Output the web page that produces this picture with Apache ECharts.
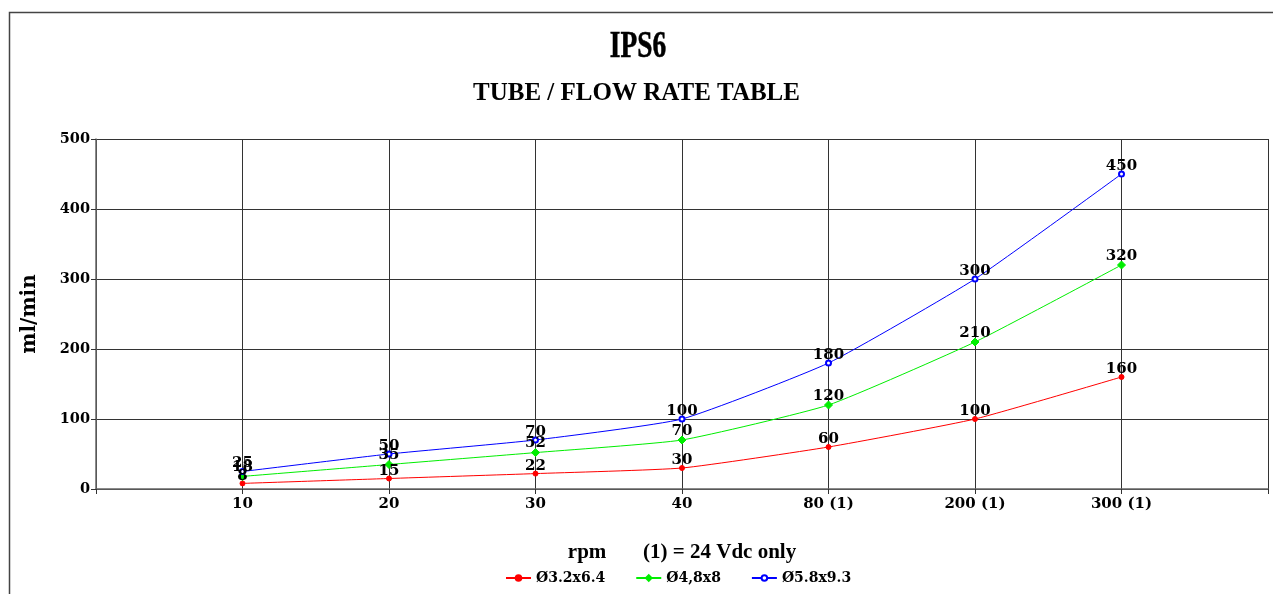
<!DOCTYPE html>
<html><head><meta charset="utf-8">
<script src="https://cdn.jsdelivr.net/npm/echarts@6/dist/echarts.min.js"></script>
<style>html,body{margin:0;padding:0;background:#fff}#c{width:1273px;height:594px}</style>
</head><body><div id="c"></div>
<script>
const categories = ['', '10', '20', '30', '40', '80 (1)', '200 (1)', '300 (1)', ''];
const tube1 = [null, 8, 15, 22, 30, 60, 100, 160, null];
const tube2 = [null, 18, 35, 52, 70, 120, 210, 320, null];
const tube3 = [null, 25, 50, 70, 100, 180, 300, 450, null];
const seriesNames = ['Ø3.2x6.4', 'Ø4,8x8', 'Ø5.8x9.3'];
const yTicks = [0, 100, 200, 300, 400, 500];

const chart = echarts.init(document.getElementById('c'));
const numFont = 'DejaVu Serif';
const labelStyle = {show: true, position: 'top', distance: 0, offset: [0, 3], color: '#000', fontFamily: numFont, fontWeight: 'bold', fontSize: 15};
function mk(name, data, color, symbol, size) {
  return {
    name: name, type: 'line', data: data, connectNulls: false, smooth: 0.15,
    symbol: symbol, symbolSize: size, showAllSymbol: true,
    lineStyle: {color: color, width: 1},
    itemStyle: {color: color, borderColor: color, borderWidth: 1},
    label: labelStyle, z: 3
  };
}
chart.setOption({
  animation: false,
  backgroundColor: '#fff',
  graphic: [
    {type: 'rect', shape: {x: 9.5, y: 12.5, width: 1400, height: 700}, style: {fill: 'none', stroke: '#444', lineWidth: 1.5}, z: -10},
    {type: 'text', x: 638, y: 47, scaleX: 0.72, style: {text: 'IPS6', x: 0, y: 0, align: 'center', verticalAlign: 'middle', fill: '#000', font: 'bold 38px "Liberation Serif"', stroke: '#000', lineWidth: 0.6}}
  ],
  title: [
    {text: 'TUBE / FLOW RATE TABLE', left: 'center', top: 76, textStyle: {fontFamily: 'Liberation Serif', fontWeight: 'bold', fontSize: 25, color: '#000'}}
  ],
  legend: {
    bottom: 4, left: 500, itemGap: 30, itemWidth: 25, itemHeight: 7,
    textStyle: {fontFamily: numFont, fontWeight: 'bold', fontSize: 14, color: '#000'},
    data: seriesNames
  },
  grid: {left: 96, right: 5, top: 139, bottom: 105},
  xAxis: {
    type: 'category', data: categories, boundaryGap: false,
    name: 'rpm       (1) = 24 Vdc only', nameLocation: 'middle', nameGap: 53,
    nameTextStyle: {fontFamily: 'Liberation Serif', fontWeight: 'bold', fontSize: 21, color: '#000'},
    axisLine: {lineStyle: {color: '#666', width: 1.5}},
    axisTick: {show: true, alignWithLabel: true, length: 5, lineStyle: {color: '#333'}, interval: 0},
    axisLabel: {interval: 0, color: '#000', fontFamily: numFont, fontWeight: 'bold', fontSize: 15, margin: 8},
    splitLine: {show: true, interval: 0, lineStyle: {color: '#333', width: 1}}
  },
  yAxis: {
    type: 'value', min: 0, max: 500, interval: 100,
    name: 'ml/min', nameLocation: 'middle', nameGap: 56,
    nameTextStyle: {fontFamily: numFont, fontWeight: 'bold', fontSize: 20, color: '#000'},
    axisLine: {show: true, lineStyle: {color: '#666', width: 1.5}},
    axisTick: {show: true, length: 5, lineStyle: {color: '#333'}},
    axisLabel: {color: '#000', fontFamily: numFont, fontWeight: 'bold', fontSize: 14.5, margin: 6,
      formatter: v => yTicks.includes(v) ? String(v) : ''},
    splitLine: {show: true, lineStyle: {color: '#333', width: 1}}
  },
  series: [
    mk(seriesNames[0], tube1, '#ff0000', 'circle', 5),
    mk(seriesNames[1], tube2, '#00ee00', 'diamond', 8),
    mk(seriesNames[2], tube3, '#0000ff', 'emptyCircle', 5)
  ]
});
</script></body></html>
